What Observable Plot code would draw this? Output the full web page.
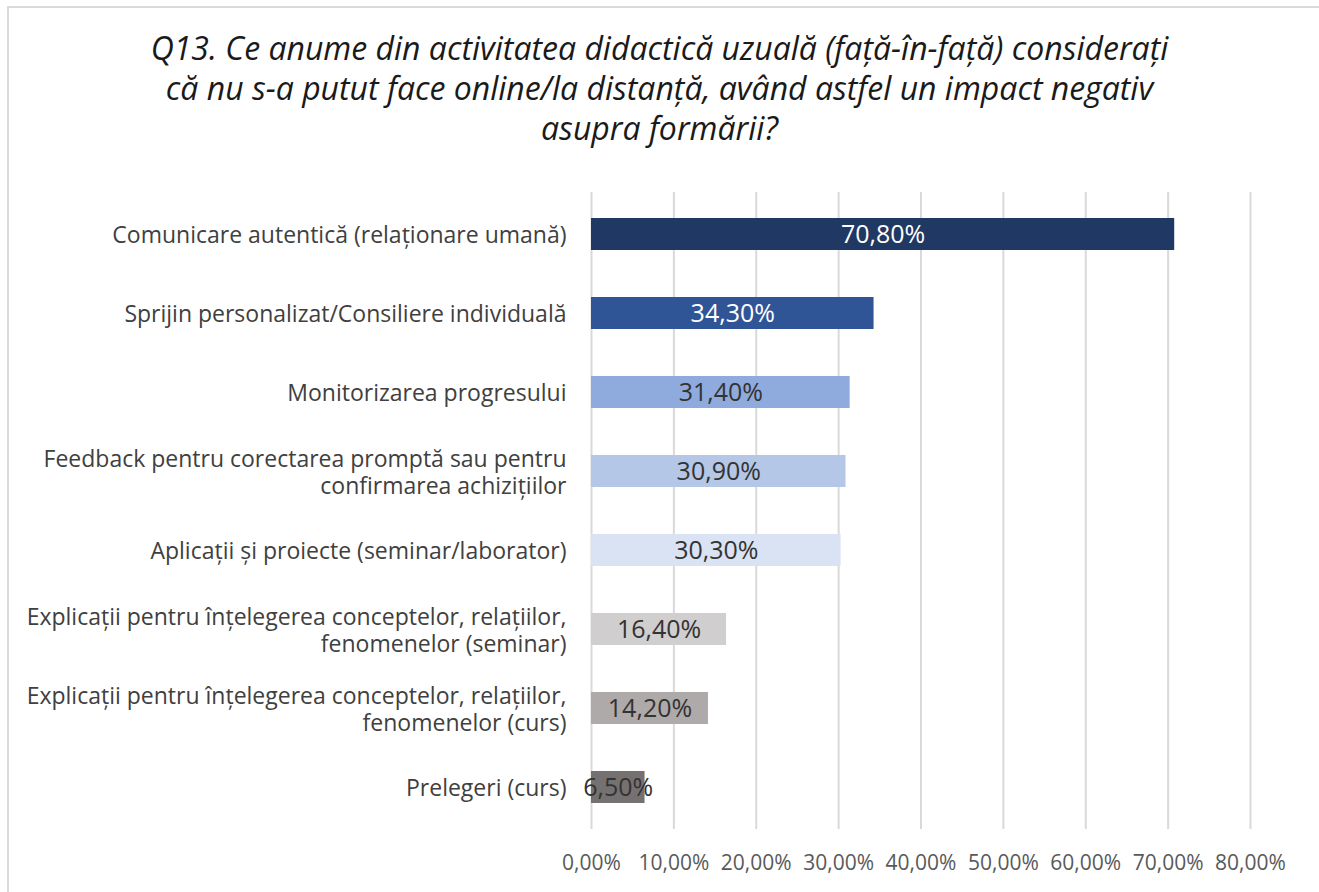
<!DOCTYPE html>
<html>
<head>
<meta charset="utf-8">
<script src="https://cdn.jsdelivr.net/npm/d3@7"></script>
<script src="https://cdn.jsdelivr.net/npm/@observablehq/plot@0.6"></script>
<style>
  html, body { margin: 0; padding: 0; background: #fff; }
  #page { position: relative; width: 1319px; height: 892px; overflow: hidden; background: #fff; }
  #frame { position: absolute; left: 7px; top: 6px; width: 1330px; height: 900px; border-left: 2px solid #d9d9d9; border-top: 2px solid #d9d9d9; box-sizing: border-box; }
  #title { position: absolute; left: 0; width: 1319px; top: 28px; text-align: center; font-family: "Open Sans", Lato, sans-serif; font-style: italic; font-size: 32px; line-height: 40px; color: #1a1a1a; }
  #chart { position: absolute; left: 0; top: 170px; }
</style>
</head>
<body>
<div id="page">
  <div id="frame"></div>
  <div id="title">Q13. Ce anume din activitatea didactică uzuală (față-în-față) considerați<br>că nu s-a putut face online/la distanță, având astfel un impact negativ<br>asupra formării?</div>
  <div id="chart"></div>
</div>
<script>
const categories = [
  "Comunicare autentică (relaționare umană)",
  "Sprijin personalizat/Consiliere individuală",
  "Monitorizarea progresului",
  "Feedback pentru corectarea promptă sau pentru\nconfirmarea achizițiilor",
  "Aplicații și proiecte (seminar/laborator)",
  "Explicații pentru înțelegerea conceptelor, relațiilor,\nfenomenelor (seminar)",
  "Explicații pentru înțelegerea conceptelor, relațiilor,\nfenomenelor (curs)",
  "Prelegeri (curs)"
];
const values = [70.8, 34.3, 31.4, 30.9, 30.3, 16.4, 14.2, 6.5];
const barColors = ["#203864", "#2f5597", "#8faadc", "#b4c7e7", "#dae3f3", "#d0cece", "#aeaaaa", "#767171"];
const labelColors = ["#ffffff", "#ffffff", "#333333", "#333333", "#333333", "#333333", "#333333", "#333333"];
const xTicks = [0, 10, 20, 30, 40, 50, 60, 70, 80];

const data = categories.map((c, i) => ({cat: c, value: values[i], fill: barColors[i], lab: labelColors[i]}));
const fmt = v => v.toFixed(2).replace(".", ",") + "%";

const chart = Plot.plot({
  width: 1319,
  height: 722,
  marginLeft: 591,
  marginRight: 69,
  marginTop: 22,
  marginBottom: 63,
  style: {fontFamily: "'Open Sans', Lato, sans-serif", background: "transparent"},
  x: {domain: [0, 80], ticks: xTicks},
  y: {domain: categories, paddingInner: 0.6, paddingOuter: 0.3},
  marks: [
    Plot.ruleX(xTicks, {x: d => d, stroke: "#d9d9d9", strokeWidth: 2}),
    Plot.barX(data, {x: "value", y: "cat", fill: "fill"}),
    Plot.text(data, {x: d => d.value / 2, y: "cat", text: d => fmt(d.value), fill: "lab", fontSize: 25}),
    Plot.text(data, {x: 0, y: "cat", text: "cat", textAnchor: "end", dx: -25, fill: "#404040", fontSize: 23, lineHeight: 1.2}),
    Plot.axisX(xTicks, {tickSize: 0, tickPadding: 26, tickFormat: fmt, fontSize: 21, fill: "#595959", label: null}),
    Plot.axisY({ticks: [], label: null, tickSize: 0})
  ]
});
document.getElementById("chart").appendChild(chart);
</script>
</body>
</html>
